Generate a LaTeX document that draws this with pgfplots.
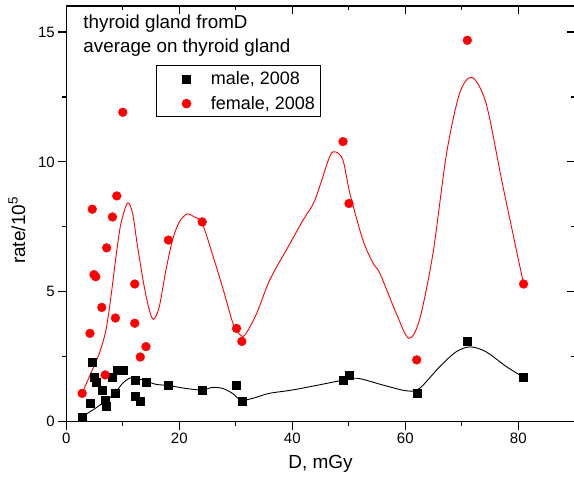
\documentclass[border=0pt]{standalone}
\usepackage{fontspec}
\setmainfont{Liberation Sans}
\usepackage{pgfplots}
\pgfplotsset{compat=1.18}
\begin{document}
\begin{tikzpicture}
\pgfplotsset{
  common/.style={
    at={(0,0)}, anchor=south west,
    scale only axis, width=508.5bp, height=415.7bp,
    xmin=0, xmax=90, ymin=0, ymax=16,
    xtick={0,20,40,60,80}, minor xtick={10,30,50,70,90},
    ytick={0,5,10,15}, minor ytick={2.5,7.5,12.5},
    major tick length=8bp, minor tick length=4bp,
    axis line style={line width=1.4bp},
    tick style={black, line width=1.2bp},
  }
}
\begin{axis}[common,
  xtick pos=top, ytick pos=right, tick align=inside,
  xticklabels={}, yticklabels={},
]
\end{axis}
\begin{axis}[common,
  xtick pos=bottom, ytick pos=left, tick align=outside,
  /pgf/number format/assume math mode=true,
  ticklabel style={font=\fontsize{15bp}{18bp}\selectfont},
  label style={font=\fontsize{19bp}{22bp}\selectfont},
  xlabel={D, mGy},
  ylabel={rate/10\textsuperscript{5}},
  xlabel style={yshift=-5bp},
  ylabel style={at={(ticklabel cs:0.46)}, yshift=6bp},
  legend style={at={(rel axis cs:0.1755,0.857)}, anchor=north west,
    draw=black, line width=0.8bp, font=\fontsize{18bp}{21bp}\selectfont,
    inner xsep=3bp, inner ysep=4bp, row sep=6bp},
  legend cell align=left,
  legend image code/.code={
    \node[draw=none, fill=none, inner sep=0pt, minimum width=50bp, minimum height=2bp, anchor=west] at (0bp,0bp) {};
    \draw[#1] plot[only marks] coordinates {(28bp,0bp)};},
]
\addplot[black, line width=0.9bp, smooth, forget plot] coordinates {
(2.8,0.19)(4.67,0.45)(6.44,0.71)(7.6,0.90)(8.79,1.15)(9.97,1.48)(11.15,1.67)(12.03,1.69)(14.1,1.57)(15.86,1.44)(18.1,1.39)(21.17,1.28)(24.0,1.22)(25.9,1.32)(27.66,1.28)(29.43,1.09)(30.9,0.83)(33.0,0.90)(35.9,1.09)(40.0,1.22)(45.3,1.44)(49.0,1.60)(51.6,1.67)(56.06,1.41)(60.2,1.19)(62.5,1.28)(66.1,2.12)(69.0,2.69)(71.5,2.88)(74.3,2.69)(77.9,2.12)(80.94,1.71)
};
\addplot[red, line width=0.9bp, smooth, forget plot] coordinates {
(2.8,1.09)(4.07,1.73)(5.84,2.63)(7.02,3.53)(7.9,4.81)(8.79,6.35)(9.67,7.63)(10.85,8.42)(11.74,8.01)(12.62,6.73)(13.8,5.19)(14.7,4.30)(15.45,3.94)(16.45,4.42)(17.63,5.83)(18.8,6.99)(20.0,7.69)(21.4,8.0)(22.5,7.9)(24.05,7.63)(26,6.35)(27.8,5.07)(29.5,3.78)(30.6,3.38)(31.6,3.33)(33.7,4.17)(36.0,5.45)(39.6,6.86)(41.9,7.76)(44.0,8.53)(46.6,10.19)(47.7,10.38)(48.98,10.06)(50.2,8.78)(52.5,6.99)(54.3,6.1)(55.5,5.71)(58.4,4.17)(60.6,3.21)(62.5,3.91)(64.9,6.48)(67.3,10.32)(69.6,12.63)(71.8,13.25)(74.3,12.25)(77.3,9.04)(80.94,5.30)
};
\addplot[only marks, mark=square*, mark size=4bp, black] coordinates {
(2.8,0.19)(4.19,0.72)(4.6,2.29)(4.9,1.73)(5.22,1.51)(6.28,1.22)(6.87,0.81)(7.14,0.60)(8.17,1.71)(8.7,1.10)(8.93,1.99)(10.0,1.99)(12.12,1.60)(12.12,1.0)(13.1,0.79)(14.1,1.51)(18.07,1.40)(24.05,1.21)(30.13,1.39)(31.07,0.80)(48.98,1.60)(50.04,1.80)(62.02,1.09)(70.98,3.10)(80.94,1.71)
};
\addlegendentry{male, 2008}
\addplot[only marks, mark=*, mark size=4.4bp, red, mark options={draw=red, fill=red}] coordinates {
(2.8,1.09)(4.19,3.40)(4.6,8.18)(4.9,5.66)(5.22,5.58)(6.28,4.40)(6.87,1.80)(7.14,6.69)(8.17,7.88)(8.7,3.99)(8.93,8.69)(10.0,11.91)(12.12,5.30)(12.12,3.79)(13.1,2.49)(14.1,2.89)(18.07,6.99)(24.05,7.69)(30.13,3.59)(31.07,3.09)(48.98,10.78)(50.04,8.40)(62.02,2.38)(70.98,14.68)(80.94,5.30)
};
\addlegendentry{female, 2008}
\node[anchor=base west, font=\fontsize{18.8bp}{22bp}\selectfont, inner sep=0pt] at (rel axis cs:0.0334,0.946) {thyroid gland fromD};
\node[anchor=base west, font=\fontsize{18.8bp}{22bp}\selectfont, inner sep=0pt] at (rel axis cs:0.0334,0.888) {average on thyroid gland};
\end{axis}
\pgfresetboundingbox
\path[use as bounding box] (-66.3bp,-68.3bp) rectangle (507.7bp,421.7bp);
\end{tikzpicture}
\end{document}
